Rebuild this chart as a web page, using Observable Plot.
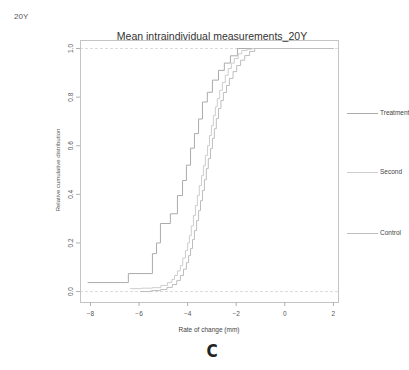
<!DOCTYPE html>
<html>
<head>
<meta charset="utf-8">
<script src="https://cdn.jsdelivr.net/npm/d3@7"></script>
<script src="https://cdn.jsdelivr.net/npm/@observablehq/plot@0.6"></script>
<style>
  html, body { margin: 0; padding: 0; background: #fff; }
  #wrap { position: relative; width: 409px; height: 370px; font-family: "Liberation Sans", Arial, sans-serif; overflow: hidden; }
  #wrap svg { position: absolute; left: 0; top: 0; }
  .t { position: absolute; white-space: nowrap; color: #555; }
</style>
</head>
<body>
<div id="wrap"></div>
<script>
// ---- data ----
const cornerLabel = "20Y";
const title = "Mean intraindividual measurements_20Y";
const xTitle = "Rate of change (mm)";
const yTitle = "Relative cumulative distribution";
const panelLetter = "C";
const seriesNames = ["Treatment", "Second", "Control"];
const xTicks = [-8, -6, -4, -2, 0, 2];
const yTicks = [0, 0.2, 0.4, 0.6, 0.8, 1];

const treatX = [-8.1, -6.44, -5.45, -5.28, -5.12, -4.71, -4.42, -4.21, -4.05, -3.88, -3.72, -3.55, -3.39, -3.19, -2.98, -2.73, -2.49, -2.24, -1.95, 2.0];
const treatY = [0.037, 0.074, 0.156, 0.2, 0.28, 0.32, 0.395, 0.457, 0.52, 0.59, 0.65, 0.71, 0.78, 0.82, 0.87, 0.91, 0.94, 0.97, 1.0, 1.0];

const secondX = [-6.35, -5.9, -5.45, -5.1, -4.83, -4.65, -4.54, -4.42, -4.3, -4.2, -4.09, -4.0, -3.93, -3.85, -3.76, -3.68, -3.6, -3.52, -3.43, -3.35, -3.27, -3.18, -3.1, -3.02, -2.94, -2.86, -2.78, -2.68, -2.57, -2.45, -2.33, -2.2, -2.08, -1.92, -1.77, -1.55, -1.36, 2.0];
const secondY = [0.012, 0.014, 0.016, 0.025, 0.037, 0.05, 0.066, 0.085, 0.107, 0.138, 0.169, 0.2, 0.23, 0.27, 0.313, 0.354, 0.395, 0.436, 0.477, 0.518, 0.56, 0.6, 0.642, 0.683, 0.724, 0.76, 0.794, 0.828, 0.86, 0.89, 0.918, 0.94, 0.959, 0.978, 0.992, 0.997, 1.0, 1.0];

const controlX = [-5.94, -5.5, -5.12, -4.85, -4.63, -4.45, -4.3, -4.17, -4.05, -3.96, -3.88, -3.8, -3.72, -3.63, -3.55, -3.47, -3.39, -3.31, -3.23, -3.15, -3.06, -2.98, -2.9, -2.82, -2.73, -2.63, -2.53, -2.4, -2.28, -2.13, -1.98, -1.82, -1.65, -1.45, -1.24, 2.0];
const controlY = [0.0, 0.004, 0.008, 0.017, 0.029, 0.045, 0.066, 0.092, 0.119, 0.148, 0.177, 0.214, 0.251, 0.292, 0.333, 0.374, 0.416, 0.46, 0.506, 0.547, 0.588, 0.63, 0.67, 0.712, 0.753, 0.786, 0.819, 0.848, 0.877, 0.905, 0.93, 0.952, 0.971, 0.988, 1.0, 1.0];

const seriesColors = ["#ababab", "#cdcdcd", "#bdbdbd"];

// ---- build table ----
function rows(xs, ys, name) { return xs.map((x, i) => ({x, y: ys[i], s: name})); }
const data = [
  ...rows(treatX, treatY, seriesNames[0]),
  ...rows(secondX, secondY, seriesNames[1]),
  ...rows(controlX, controlY, seriesNames[2])
];

const W = 409, H = 370;
const chart = Plot.plot({
  width: W, height: H,
  marginLeft: 80, marginRight: 71, marginTop: 40, marginBottom: 68,
  style: {fontFamily: "Liberation Sans, Arial, sans-serif", fontSize: "6.5px", color: "#555", background: "transparent"},
  x: {domain: [-8.41, 2.21], ticks: xTicks, label: null},
  y: {domain: [-0.045, 1.033], ticks: yTicks, label: null},
  color: {domain: seriesNames, range: seriesColors},
  marks: [
    Plot.ruleY([0, 1], {stroke: "#dadada", strokeDasharray: "3,2", strokeWidth: 1}),
    Plot.line(data, {x: "x", y: "y", z: "s", stroke: "s", curve: "step-after", strokeWidth: 1}),
    Plot.frame({stroke: "#c4c4c4"}),
    Plot.axisX({ticks: xTicks, tickSize: 4, tickPadding: 5, stroke: "#b0b0b0", fill: "#555", tickFormat: d => d.toString().replace("-", "\u2212"), label: null}),
    Plot.axisY({ticks: yTicks, tickSize: 4, tickPadding: 4, tickRotate: -90, stroke: "#b0b0b0", fill: "#555", tickFormat: d => d.toFixed(1), label: null})
  ]
});
const wrap = document.getElementById("wrap");
wrap.appendChild(chart);

function addText(txt, css) {
  const d = document.createElement("div");
  d.className = "t";
  d.textContent = txt;
  Object.assign(d.style, css);
  wrap.appendChild(d);
  return d;
}
addText(cornerLabel, {left: "14px", top: "12px", fontSize: "8px", color: "#555"});
addText(title, {left: "0", width: "424px", textAlign: "center", top: "30px", fontSize: "10.5px", color: "#333"});
addText(xTitle, {left: "0", width: "418px", textAlign: "center", top: "326px", fontSize: "6.5px", color: "#444"});
addText(panelLetter, {left: "0", width: "424px", textAlign: "center", top: "341px", fontSize: "17px", fontWeight: "bold", color: "#222", fontFamily: "DejaVu Sans Condensed, DejaVu Sans, sans-serif"});
addText(yTitle, {left: "58px", top: "170px", fontSize: "6px", color: "#555", transform: "translate(-50%,-50%) rotate(-90deg)"});

// legend in right margin
const legendY = [113, 172, 233];
seriesNames.forEach((n, i) => {
  const line = document.createElement("div");
  Object.assign(line.style, {position: "absolute", left: "347px", top: legendY[i] + "px", width: "31px", height: "0", borderTop: "1px solid " + seriesColors[i]});
  wrap.appendChild(line);
  addText(n, {left: "380px", top: (legendY[i] - 4) + "px", fontSize: "6.5px", color: "#444"});
});
</script>
</body>
</html>
